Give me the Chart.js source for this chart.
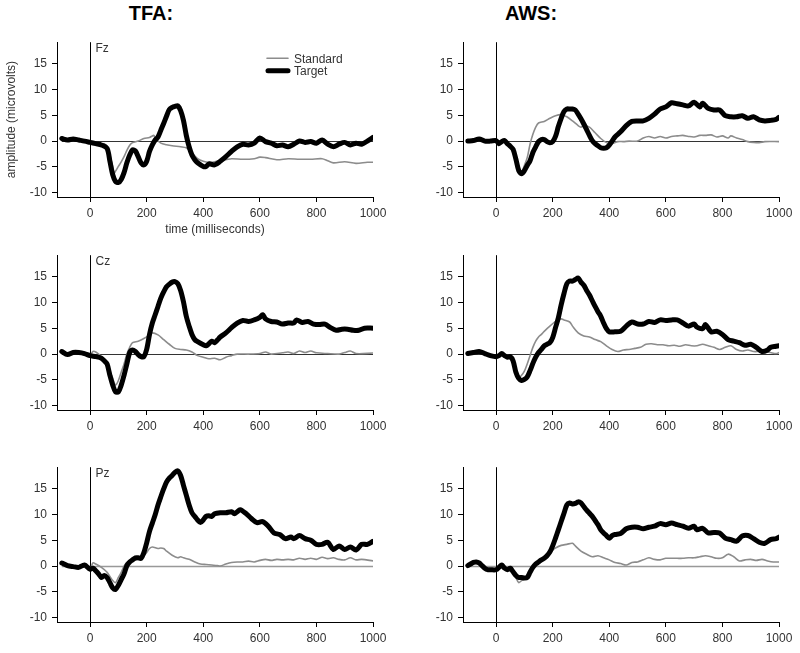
<!DOCTYPE html>
<html>
<head>
<meta charset="utf-8">
<script src="https://cdn.jsdelivr.net/npm/chart.js@4"></script>
<style>
  body { margin: 0; background: #fff; width: 800px; height: 653px; position: relative; overflow: hidden; font-family: Arial, "Liberation Sans", sans-serif; }
  canvas { position: absolute; }
  .group { position: absolute; font-weight: bold; font-size: 20px; line-height: 24px; color: #000; transform: translateX(-50%); }
</style>
</head>
<body>
<div class="group" style="left:151px;top:1px">TFA:</div>
<div class="group" style="left:531px;top:1px">AWS:</div>

<canvas id="tfaFz" width="394" height="213" style="left:0;top:30px"></canvas>
<canvas id="awsFz" width="394" height="197" style="left:406px;top:30px"></canvas>
<canvas id="tfaCz" width="394" height="197" style="left:0;top:243px"></canvas>
<canvas id="awsCz" width="394" height="197" style="left:406px;top:243px"></canvas>
<canvas id="tfaPz" width="394" height="197" style="left:0;top:455px"></canvas>
<canvas id="awsPz" width="394" height="197" style="left:406px;top:455px"></canvas>

<script>
// [time (ms), amplitude (microvolts)]
const tfaFzTarget = [[-100,0.5],[-80,0.2],[-60,0.4],[-40,0.2],[-20,0],[0,-0.25],[20,-0.5],[40,-0.75],[60,-1.4],[70,-3.9],[80,-6.5],[90,-7.8],[100,-8.0],[110,-7.4],[120,-6.1],[130,-4.2],[140,-2.7],[150,-1.7],[160,-1.9],[170,-3.0],[180,-4.2],[190,-4.6],[200,-3.9],[210,-2.0],[220,-0.75],[230,0.2],[240,0.8],[250,2.1],[260,3.4],[270,4.8],[280,6.1],[290,6.5],[300,6.7],[310,6.8],[320,5.9],[330,4.0],[340,1.1],[350,-1.1],[360,-2.7],[370,-3.6],[380,-4.2],[400,-4.9],[410,-4.9],[420,-4.4],[440,-4.6],[460,-3.9],[480,-3.0],[500,-2.0],[520,-1.1],[540,-0.6],[560,-0.75],[580,-0.4],[600,0.6],[620,-0.1],[640,-0.4],[660,-0.9],[680,-0.75],[700,-1.1],[720,-0.6],[740,0],[760,-0.25],[780,-0.1],[800,-0.4],[820,0.2],[840,-0.6],[860,-1.1],[880,-0.6],[900,-0.25],[920,-0.75],[940,-0.4],[960,-0.6],[980,0],[1000,0.7]];
const tfaFzStandard = [[-100,0.3],[-80,0.2],[-60,0.3],[-40,0.1],[-20,0],[0,-0.2],[20,-0.4],[40,-0.6],[50,-0.5],[60,-1.0],[70,-2.7],[80,-5.0],[85,-6.2],[90,-5.8],[100,-4.9],[110,-4.0],[120,-3.0],[130,-1.8],[140,-0.8],[150,-0.3],[170,0],[190,0.5],[210,0.7],[220,1.0],[225,1.1],[235,0.3],[250,-0.4],[270,-0.7],[290,-0.9],[320,-1.1],[340,-1.3],[360,-2.3],[380,-3.4],[400,-3.9],[420,-4.1],[440,-4.0],[460,-3.7],[480,-3.6],[500,-3.4],[540,-3.5],[580,-3.4],[600,-3.1],[620,-3.2],[660,-3.6],[700,-3.4],[740,-3.5],[780,-3.5],[820,-3.4],[840,-3.8],[860,-4.2],[900,-4.0],[940,-4.3],[980,-4.1],[1000,-4.1]];

const awsFzTarget = [[-100,0],[-80,0.1],[-60,0.4],[-40,0],[-20,0],[0,0.1],[10,-0.5],[20,-0.1],[30,0.1],[40,-0.5],[50,-1.0],[60,-1.6],[70,-3.5],[80,-5.7],[90,-6.3],[100,-5.7],[110,-4.7],[120,-3.8],[130,-2.2],[140,-1.1],[150,-0.1],[160,0.3],[170,0.3],[180,-0.1],[190,-0.3],[200,-0.1],[210,0.9],[220,2.8],[230,4.4],[240,5.7],[250,6.2],[260,6.2],[270,6.2],[280,6.0],[290,5.2],[300,4.3],[310,3.3],[320,2.2],[330,1.1],[340,0.1],[350,-0.5],[360,-0.9],[370,-1.3],[380,-1.4],[390,-1.3],[400,-0.8],[410,0],[420,0.8],[440,1.8],[460,3.0],[480,3.8],[500,3.9],[520,3.9],[540,4.4],[560,5.2],[580,6.2],[600,6.6],[620,7.4],[640,7.2],[660,7.0],[680,6.8],[700,7.5],[720,6.6],[730,7.3],[750,6.3],[770,6.0],[790,6.0],[810,4.9],[830,4.7],[850,4.7],[870,4.9],[890,4.4],[910,4.7],[930,4.1],[950,3.9],[970,4.0],[990,4.2],[1000,4.6]];
const awsFzStandard = [[-100,0],[-80,0.1],[-60,0.4],[-40,0],[-20,0],[0,0.1],[20,-0.1],[40,-0.5],[60,-1.6],[70,-3.3],[80,-5.2],[90,-6.0],[100,-4.7],[110,-3.2],[120,-0.6],[130,1.3],[140,2.7],[150,3.5],[170,3.8],[190,4.4],[210,4.9],[230,5.1],[250,4.7],[270,3.9],[290,3.0],[300,2.7],[310,3.0],[330,2.7],[350,1.6],[370,0.5],[390,-0.3],[410,-0.5],[430,-0.1],[450,-0.1],[470,0],[500,0],[520,0.6],[540,0.9],[560,0.6],[580,0.9],[600,0.6],[620,0.9],[640,1.0],[660,1.1],[680,0.9],[700,0.8],[720,1.1],[740,1.1],[760,1.2],[780,0.8],[800,1.0],[820,0.6],[830,1.0],[850,0.6],[870,0.3],[890,-0.1],[910,-0.25],[930,-0.3],[950,-0.1],[1000,-0.1]];

const tfaCzTarget = [[-100,0.5],[-80,-0.1],[-60,0.3],[-40,0.3],[-20,0.1],[0,-0.3],[20,-0.5],[40,-0.8],[50,-1.3],[60,-1.9],[70,-4.1],[80,-6.0],[90,-7.3],[100,-7.3],[110,-6.0],[120,-4.1],[130,-1.9],[140,0.3],[150,0.8],[160,0.5],[170,-0.1],[180,-0.5],[190,-0.5],[200,0.9],[210,3.8],[220,6.0],[230,7.6],[240,9.2],[250,10.8],[260,12.0],[270,13.0],[280,13.5],[290,13.9],[300,14.0],[310,13.6],[320,12.3],[330,10.1],[340,7.3],[350,5.4],[360,3.8],[370,2.8],[380,2.4],[400,1.8],[410,1.6],[420,2.0],[430,2.5],[440,2.2],[450,2.7],[460,3.3],[480,4.1],[500,5.1],[520,6.0],[540,6.5],[560,6.3],[580,6.6],[600,7.1],[610,7.6],[620,6.8],[640,6.3],[660,6.2],[680,5.8],[700,6.0],[720,6.0],[730,6.6],[750,6.1],[770,6.3],[790,5.8],[810,5.7],[830,5.8],[850,5.1],[870,4.6],[890,4.8],[910,4.8],[930,4.6],[950,4.6],[970,5.0],[1000,5.0]];
const tfaCzStandard = [[-100,0.5],[-80,-0.1],[-60,0.3],[-40,0.3],[-20,0.1],[0,-0.2],[10,0.5],[20,0.4],[40,-0.5],[60,-1.9],[80,-4.7],[90,-6.0],[100,-5.1],[110,-3.5],[120,-1.9],[130,0],[140,1.3],[150,2.2],[170,2.5],[190,3.0],[210,3.7],[220,4.1],[240,3.7],[260,2.8],[280,1.9],[300,1.1],[320,0.9],[340,0.8],[360,0.4],[380,-0.3],[400,-0.6],[420,-0.9],[440,-0.8],[460,-1.1],[480,-0.6],[500,-0.3],[520,0],[560,0],[600,0.1],[620,0.4],[640,0],[680,0.25],[700,0.4],[720,0.1],[740,0.6],[760,0.3],[780,0.6],[800,0.25],[840,0.1],[880,0],[900,0.3],[920,0.6],[940,0.1],[1000,0.2]];

const awsCzTarget = [[-100,0.1],[-80,0.3],[-60,0.5],[-40,0.1],[-20,-0.3],[0,-0.5],[10,-0.3],[20,0.1],[30,-0.3],[40,-0.6],[50,-0.5],[60,-1.3],[70,-3.5],[80,-4.7],[90,-5.1],[100,-4.9],[110,-4.4],[120,-3.2],[130,-1.8],[140,-0.6],[150,0.3],[160,0.9],[170,1.6],[180,1.9],[190,2.2],[200,3.2],[210,5.1],[220,7.0],[230,9.5],[240,11.7],[250,13.6],[260,14.1],[270,14.1],[280,14.4],[290,14.7],[300,13.9],[310,13.3],[320,12.3],[330,11.4],[340,10.3],[350,9.2],[360,8.2],[370,7.3],[380,6.0],[390,4.9],[400,4.3],[420,4.3],[440,4.4],[460,5.4],[480,6.2],[500,5.8],[520,5.8],[540,6.3],[560,6.1],[580,6.6],[600,6.5],[620,6.6],[640,6.6],[660,6.0],[680,5.4],[700,5.8],[710,5.2],[730,4.9],[740,5.7],[760,4.3],[780,4.4],[800,3.8],[820,2.8],[840,2.5],[860,2.2],[880,1.7],[900,1.9],[920,1.3],[940,0.5],[960,0.8],[970,1.3],[990,1.5],[1000,1.6]];
const awsCzStandard = [[-100,0.1],[-80,0.3],[-60,0.5],[-40,0.1],[-20,-0.3],[0,-0.5],[20,0.1],[40,-0.6],[60,-1.3],[70,-3.4],[80,-4.6],[90,-4.1],[100,-3.3],[110,-1.9],[120,-0.3],[130,1.3],[140,2.5],[150,3.3],[160,3.8],[170,4.4],[190,5.4],[210,6.3],[220,6.6],[230,6.8],[240,6.6],[260,6.2],[270,5.4],[290,4.1],[310,3.5],[330,3.3],[350,2.8],[370,2.4],[390,1.6],[410,0.9],[430,0.5],[450,0.8],[470,0.9],[490,1.1],[510,1.3],[530,1.9],[550,2.0],[570,1.8],[590,1.8],[610,1.6],[630,1.7],[650,1.5],[670,1.8],[690,1.6],[710,1.6],[730,1.9],[750,1.6],[770,1.3],[790,0.9],[810,1.3],[830,1.6],[850,0.9],[870,0.6],[890,0.8],[910,0.5],[930,0.5],[950,0.5],[970,0.3],[990,0.1],[1000,0.3]];

const tfaPzTarget = [[-100,0.6],[-80,0.1],[-60,-0.1],[-40,-0.25],[-20,0.2],[0,-0.6],[10,-0.4],[20,-0.9],[30,-1.5],[40,-2.2],[50,-1.8],[60,-2.2],[70,-3.2],[80,-4.2],[90,-4.5],[100,-3.7],[110,-2.6],[120,-1.5],[130,0.1],[140,0.8],[150,1.2],[160,1.6],[170,1.6],[180,1.5],[190,2.6],[200,4.5],[210,6.7],[220,8.3],[230,9.9],[240,11.8],[250,13.4],[260,14.9],[270,16.2],[280,17.0],[290,17.5],[300,18.1],[310,18.4],[320,17.5],[330,15.6],[340,13.7],[350,11.8],[360,10.3],[370,9.6],[380,8.9],[390,8.4],[400,8.9],[410,9.6],[420,9.7],[430,9.6],[440,10.1],[460,10.3],[480,10.3],[500,10.5],[510,10.1],[520,10.5],[530,10.9],[550,10.2],[570,9.2],[590,8.4],[610,8.6],[630,7.7],[650,6.4],[670,6.1],[690,5.3],[710,5.6],[720,5.3],[740,5.9],[760,5.3],[780,5.0],[800,4.2],[820,4.2],[840,4.6],[860,3.2],[880,3.9],[900,3.2],[920,3.7],[940,3.1],[960,4.2],[980,4.2],[1000,4.8]];
const tfaPzStandard = [[-100,0.6],[-80,0.1],[-60,-0.1],[-40,-0.25],[-20,0.2],[0,-0.5],[10,0.6],[20,0.4],[40,-0.25],[60,-1.2],[80,-2.8],[90,-3.2],[100,-2.2],[110,-1.2],[120,0],[130,0.7],[150,1.0],[170,1.3],[190,2.0],[200,2.6],[210,3.4],[220,3.7],[240,3.4],[250,3.5],[260,3.4],[270,2.9],[290,2.1],[310,1.6],[320,1.8],[330,1.6],[350,1.3],[370,0.8],[390,0.4],[410,0.3],[430,0.2],[450,0.1],[460,0],[480,0.4],[500,0.7],[520,0.8],[540,0.8],[560,0.95],[580,0.8],[600,1.1],[620,1.3],[640,1.1],[660,1.3],[680,1.2],[700,1.3],[720,1.2],[740,1.5],[760,1.3],[780,1.5],[800,1.3],[820,1.7],[840,1.45],[860,1.6],[880,1.3],[900,1.2],[920,1.6],[940,1.2],[960,1.3],[1000,1.0]];

const awsPzTarget = [[-100,0.1],[-90,0.4],[-80,0.7],[-70,0.8],[-60,0.6],[-50,0.1],[-40,-0.4],[-30,-0.7],[-20,-0.7],[0,-0.7],[10,-0.25],[20,0.2],[30,-0.4],[40,-0.7],[50,-0.4],[60,-1.1],[70,-1.8],[80,-2.2],[90,-2.2],[100,-2.3],[110,-2.2],[120,-1.2],[130,-0.25],[140,0.4],[150,0.8],[160,1.2],[170,1.5],[180,2.0],[190,2.7],[200,3.9],[210,5.4],[220,7.0],[230,8.6],[240,10.2],[250,11.8],[260,12.2],[270,12.0],[280,12.1],[290,12.4],[300,12.2],[310,11.5],[320,10.8],[330,10.2],[340,9.6],[350,8.8],[360,8.0],[370,7.0],[380,6.4],[390,5.9],[400,5.4],[410,5.9],[420,6.1],[440,6.3],[460,7.2],[480,7.5],[500,7.5],[520,7.2],[540,7.5],[560,7.7],[580,8.2],[600,8.0],[620,8.3],[640,8.0],[660,7.7],[680,7.3],[700,7.7],[710,7.0],[730,7.3],[750,6.4],[770,6.5],[790,6.4],[810,5.4],[830,5.1],[850,4.8],[870,5.8],[890,5.9],[910,5.3],[930,4.6],[950,4.4],[970,5.1],[990,5.3],[1000,5.6]];
const awsPzStandard = [[-100,0.1],[-80,0.7],[-60,0.6],[-40,-0.4],[-20,-0.7],[0,-0.7],[20,0.2],[40,-0.7],[60,-1.1],[70,-2.2],[80,-3.2],[90,-2.8],[100,-2.5],[110,-1.8],[120,-0.9],[130,-0.25],[140,0.4],[160,1.2],[180,2.0],[200,3.1],[210,3.5],[230,4.0],[250,4.2],[270,4.4],[280,3.9],[300,2.9],[320,2.3],[340,1.8],[360,2.0],[380,1.6],[400,1.2],[420,0.7],[440,0.5],[460,0.2],[480,0.7],[500,0.8],[520,1.2],[540,1.6],[560,1.3],[580,1.2],[600,1.5],[620,1.5],[640,1.5],[660,1.5],[680,1.6],[700,1.6],[720,1.8],[740,2.0],[760,1.8],[780,1.5],[800,1.6],[820,2.3],[840,1.8],[860,1.0],[880,1.2],[900,1.3],[920,1.1],[940,1.3],[960,1.0],[980,0.8],[1000,0.8]];

const xTicks = [0, 200, 400, 600, 800, 1000];
const yTicks = [-10, -5, 0, 5, 10, 15];

const FONT = 'Arial, "Liberation Sans", sans-serif';
Chart.defaults.font.family = FONT;
Chart.defaults.font.size = 12;
Chart.defaults.color = '#333';

const toPoints = (rows) => rows.map(([x, y]) => ({ x, y }));

// zero line, stimulus line at 0 ms, electrode name, in-plot legend
const refLines = {
    id: 'refLines',
    beforeDatasetsDraw(chart, args, opts) {
        const { ctx, chartArea, scales: { x, y } } = chart;
        ctx.save();
        const y0 = Math.round(y.getPixelForValue(0)) + 0.5;
        ctx.strokeStyle = opts.zeroColor;
        ctx.lineWidth = opts.zeroWidth;
        ctx.beginPath();
        ctx.moveTo(x.getPixelForValue(-100), y0);
        ctx.lineTo(x.getPixelForValue(1000), y0);
        ctx.stroke();
        const x0 = Math.round(x.getPixelForValue(0)) + 0.5;
        ctx.strokeStyle = '#000';
        ctx.lineWidth = 1;
        ctx.beginPath();
        ctx.moveTo(x0, chartArea.top);
        ctx.lineTo(x0, chartArea.bottom);
        ctx.stroke();
        if (opts.site) {
            ctx.fillStyle = '#333';
            ctx.font = '12px ' + FONT;
            ctx.textBaseline = 'alphabetic';
            ctx.fillText(opts.site, x0 + 5, chartArea.top + 10);
        }
        ctx.restore();
    },
    afterDatasetsDraw(chart, args, opts) {
        if (!opts.legend) return;
        const { ctx, chartArea } = chart;
        const left = chartArea.left + 210;
        ctx.save();
        ctx.font = '12px ' + FONT;
        ctx.fillStyle = '#333';
        ctx.textBaseline = 'alphabetic';
        ctx.lineCap = 'round';
        chart.data.datasets.slice().reverse().forEach((ds, i) => {
            const ly = chartArea.top + 16 + i * 12.5;
            ctx.strokeStyle = ds.borderColor;
            ctx.lineWidth = ds.borderWidth;
            ctx.beginPath();
            ctx.moveTo(left + (i ? 1 : 0), ly);
            ctx.lineTo(left + 21, ly);
            ctx.stroke();
            ctx.fillText(ds.label, left + 27, ly + 4.5);
        });
        ctx.restore();
    }
};

function makePanel(id, target, standard, opts) {
    const xBoxHeight = opts.xTitle ? 46 : 30;
    new Chart(document.getElementById(id), {
        type: 'line',
        data: {
            datasets: [
                {
                    label: 'Target',
                    data: toPoints(target),
                    borderColor: '#000',
                    borderWidth: 5,
                    borderCapStyle: 'round',
                    borderJoinStyle: 'round',
                    tension: 0.3,
                    pointRadius: 0,
                    order: 0,
                },
                {
                    label: 'Standard',
                    data: toPoints(standard),
                    borderColor: '#8c8c8c',
                    borderWidth: 1.6,
                    tension: 0.3,
                    pointRadius: 0,
                    order: 1,
                },
            ],
        },
        options: {
            responsive: false,
            animation: false,
            events: [],
            layout: { padding: { top: 10, right: 21, left: 0, bottom: 0 } },
            plugins: {
                legend: { display: false },
                tooltip: { enabled: false },
                refLines: {
                    site: opts.site,
                    legend: opts.legend,
                    zeroColor: opts.zeroColor,
                    zeroWidth: opts.zeroWidth,
                },
            },
            scales: {
                x: {
                    type: 'linear',
                    min: -117,
                    max: 1000,
                    afterFit: (scale) => { scale.height = xBoxHeight; },
                    afterBuildTicks: (scale) => { scale.ticks = xTicks.map((v) => ({ value: v })); },
                    ticks: { padding: 4, maxRotation: 0, color: '#333', callback: (v) => String(v) },
                    grid: { drawOnChartArea: false, tickLength: 5, color: '#000' },
                    border: { color: '#000', width: 1 },
                    title: {
                        display: !!opts.xTitle,
                        text: 'time (milliseconds)',
                        color: '#333',
                        padding: { top: 0, bottom: 6 },
                    },
                },
                y: {
                    min: -10.8,
                    max: 19.1,
                    afterFit: (scale) => { scale.width = 57; },
                    afterBuildTicks: (scale) => { scale.ticks = yTicks.map((v) => ({ value: v })); },
                    ticks: { padding: 5, color: '#333', callback: (v) => String(v) },
                    grid: { drawOnChartArea: false, tickLength: 5, color: '#000' },
                    border: { color: '#000', width: 1 },
                    title: {
                        display: !!opts.yTitle,
                        text: 'amplitude (microvolts)',
                        color: '#333',
                        padding: { top: 4, bottom: 0 },
                    },
                },
            },
        },
        plugins: [refLines],
    });
}

const dark = { zeroColor: '#333', zeroWidth: 1 };
const pale = { zeroColor: '#999', zeroWidth: 1.6 };

makePanel('tfaFz', tfaFzTarget, tfaFzStandard, { ...dark, site: 'Fz', legend: true, xTitle: true, yTitle: true });
makePanel('awsFz', awsFzTarget, awsFzStandard, { ...dark });
makePanel('tfaCz', tfaCzTarget, tfaCzStandard, { ...dark, site: 'Cz' });
makePanel('awsCz', awsCzTarget, awsCzStandard, { ...dark });
makePanel('tfaPz', tfaPzTarget, tfaPzStandard, { ...pale, site: 'Pz' });
makePanel('awsPz', awsPzTarget, awsPzStandard, { ...pale });
</script>
</body>
</html>
